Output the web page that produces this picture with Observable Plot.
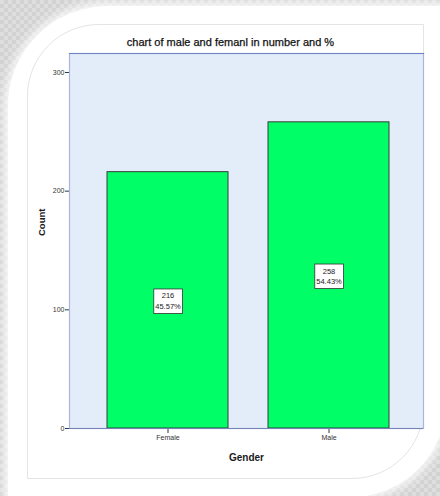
<!DOCTYPE html>
<html>
<head>
<meta charset="utf-8">
<script src="https://cdn.jsdelivr.net/npm/d3@7"></script>
<script src="https://cdn.jsdelivr.net/npm/@observablehq/plot@0.6"></script>
<style>
  html, body { margin: 0; padding: 0; background: #fff; }
  #card {
    position: relative; width: 440px; height: 496px; overflow: hidden;
    background: repeating-conic-gradient(#d2d2d2 0 25%, #dedede 0 50%) 0 0 / 8px 8px;
  }
  #panel {
    position: absolute; left: 8px; top: 6px; width: 438px; height: 491px;
    background: #fff; border-radius: 100px 0 95px 0;
    box-shadow: 0 0 10px 4px rgba(255,255,255,0.85);
  }
  #inner {
    position: absolute; left: 27px; top: 24px; width: 395px; height: 453px;
    border: 1px solid #e4e4e4; border-radius: 72px 0 72px 0;
  }
  #chart { position: absolute; left: 0; top: 0; }
  #chart svg { overflow: visible; }
</style>
</head>
<body>
<div id="card">
  <div id="panel"></div>
  <div id="inner"></div>
  <div id="chart"></div>
</div>
<script>
// Respondents by gender
const genders = ["Female", "Male"];
const counts = [216, 258];
const yTicks = [0, 100, 200, 300];

const total = d3.sum(counts);
const rows = genders.map((g, i) => ({
  gender: g,
  count: counts[i],
  pct: (counts[i] / total) * 100
}));

const font = "'Liberation Sans', Arial, sans-serif";

const chart = Plot.plot({
  width: 440,
  height: 496,
  marginLeft: 69,
  marginRight: 17,
  marginTop: 53,
  marginBottom: 68,
  style: { background: "transparent", fontFamily: font, fontSize: "7px", color: "#333" },
  x: {
    domain: genders,
    paddingInner: 0.248,
    paddingOuter: 0.22,
    align: 0.535,
    label: null,
    tickSize: 5,
    tickPadding: 2
  },
  y: {
    domain: [0, 316],
    ticks: yTicks,
    tickSize: 4,
    tickPadding: 1,
    label: null
  },
  marks: [
    // plotting area background and border
    Plot.frame({ fill: "#e3edf9", stroke: "#a9b5de", strokeWidth: 1.2 }),
    Plot.frame({ anchor: "top", stroke: "#6f82c6", strokeWidth: 1.2 }),
    Plot.barY(rows, {
      x: "gender",
      y: "count",
      fill: "#00ff66",
      stroke: "#3a3a3a",
      strokeWidth: 1
    }),
    Plot.ruleY([0], { stroke: "#7483b5", strokeWidth: 1.2 }),
    // count and share labels at mid-bar
    Plot.text(rows, {
      x: "gender",
      y: d => d.count / 2,
      text: d => `${d.count}\n${d.pct.toFixed(2)}%`,
      fontSize: 7.5,
      lineHeight: 1.4,
      fill: "#222"
    }),
    // titles
    Plot.text(["chart of male and femanl in number and %"], {
      frameAnchor: "top",
      dx: -16,
      dy: -15,
      fontSize: 11,
      fill: "#111",
      stroke: "#111",
      strokeWidth: 0.25
    }),
    Plot.text(["Count"], {
      frameAnchor: "left",
      dx: -28,
      dy: -5,
      rotate: -90,
      fontSize: 9.5,
      fontWeight: "bold",
      fill: "#1a1a1a"
    }),
    Plot.text(["Gender"], {
      frameAnchor: "bottom",
      dy: 32,
      fontSize: 10,
      fontWeight: "bold",
      fill: "#1a1a1a"
    })
  ]
});

document.getElementById("chart").append(chart);

// white boxes behind the value labels (multi-line text elements)
const labelTexts = Array.from(chart.querySelectorAll("text"))
  .filter(t => t.querySelectorAll("tspan").length > 1);
labelTexts.forEach(t => {
  const b = t.getBBox();
  const r = document.createElementNS("http://www.w3.org/2000/svg", "rect");
  r.setAttribute("x", b.x - 1.5);
  r.setAttribute("y", b.y - 2.5);
  r.setAttribute("width", b.width + 3);
  r.setAttribute("height", b.height + 5);
  r.setAttribute("fill", "#fff");
  r.setAttribute("stroke", "#333");
  r.setAttribute("stroke-width", 0.8);
  const tr = t.getAttribute("transform");
  if (tr) r.setAttribute("transform", tr);
  t.parentNode.insertBefore(r, t);
});
</script>
</body>
</html>
